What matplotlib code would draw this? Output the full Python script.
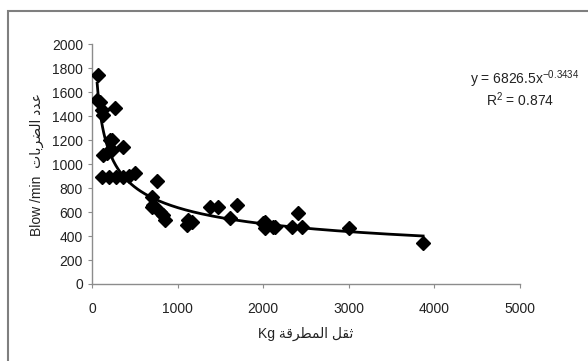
import numpy as np
import matplotlib.pyplot as plt
from matplotlib.patches import Rectangle

plt.rcParams['font.family'] = ['Liberation Sans', 'DejaVu Sans']
plt.rcParams['mathtext.default'] = 'regular'

# --- DATA ---
weight_kg = [70, 60, 95, 115, 130, 270, 210, 230, 360, 130, 170, 235,
             120, 200, 280, 360, 430, 500, 760, 700, 715, 700, 795, 830,
             850, 1110, 1120, 1165, 1380, 1470, 1610, 1690, 2000, 2020,
             2020, 2115, 2140, 2335, 2410, 2450, 3000, 3870]
blows_per_min = [1740, 1530, 1520, 1450, 1410, 1470, 1200, 1200, 1140, 1075,
                 1090, 1115, 895, 895, 895, 895, 900, 925, 860, 725, 660,
                 640, 600, 575, 535, 490, 535, 520, 640, 640, 550, 655, 505,
                 517, 470, 475, 475, 475, 590, 475, 465, 340]

# power trendline reported on the chart
coef_a = 6826.5
coef_b = -0.3434
r_squared = 0.874

x_ticks = [0, 1000, 2000, 3000, 4000, 5000]
y_ticks = list(range(0, 2001, 200))

# Arabic labels in visual (left-to-right) order with presentation forms
x_label = "Kg \uFE94\uFED7\uFEAE\uFEC4\uFEE4\uFEDF\uFE8D \uFEDE\uFED8\uFE9B"
y_label = "Blow /min  \uFE95\uFE8E\uFE91\uFEAE\uFEC0\uFEDF\uFE8D \uFEA9\uFEAA\uFECB"

# --- PLOT ---
fig = plt.figure(figsize=(5.88, 3.61), dpi=100)
ax = fig.add_axes([0.1565, 0.2133, 0.7275, 0.6647])

x_fit = np.linspace(min(weight_kg), max(weight_kg), 300)
ax.plot(x_fit, coef_a * x_fit ** coef_b, color='black', lw=2.0, zorder=2)
ax.plot(weight_kg, blows_per_min, 'D', color='black', markersize=7.5, zorder=3)

ax.set_xlim(0, 5000)
ax.set_ylim(0, 2000)
ax.set_xticks(x_ticks)
ax.set_yticks(y_ticks)

for side in ['top', 'right']:
    ax.spines[side].set_visible(False)
for side in ['left', 'bottom']:
    ax.spines[side].set_color('#8c8c8c')
    ax.spines[side].set_linewidth(1.0)
ax.tick_params(axis='both', direction='out', length=3, color='#8c8c8c',
               labelsize=10, labelcolor='#222222')
ax.tick_params(axis='x', pad=10)

ax.set_xlabel(x_label, fontsize=10, color='#222222', labelpad=8)
ax.set_ylabel(y_label, fontsize=10, color='#222222', labelpad=6)

fig.text(0.80, 0.78, f"y = {coef_a}x$^{{{coef_b}}}$", fontsize=10, color='#222222',
         ha='left', va='center')
fig.text(0.885, 0.725, f"R$^{{2}}$ = {r_squared}", fontsize=10, color='#222222',
         ha='center', va='center')

# outer chart frame (runs off the right and bottom edges)
frame = Rectangle((8 / 588, -0.1), 1.2, 1 - 11 / 361 + 0.1, transform=fig.transFigure,
                  fill=False, edgecolor='#7f7f7f', lw=1.5, clip_on=False)
fig.patches.append(frame)

fig.savefig('out.png', dpi=100)
